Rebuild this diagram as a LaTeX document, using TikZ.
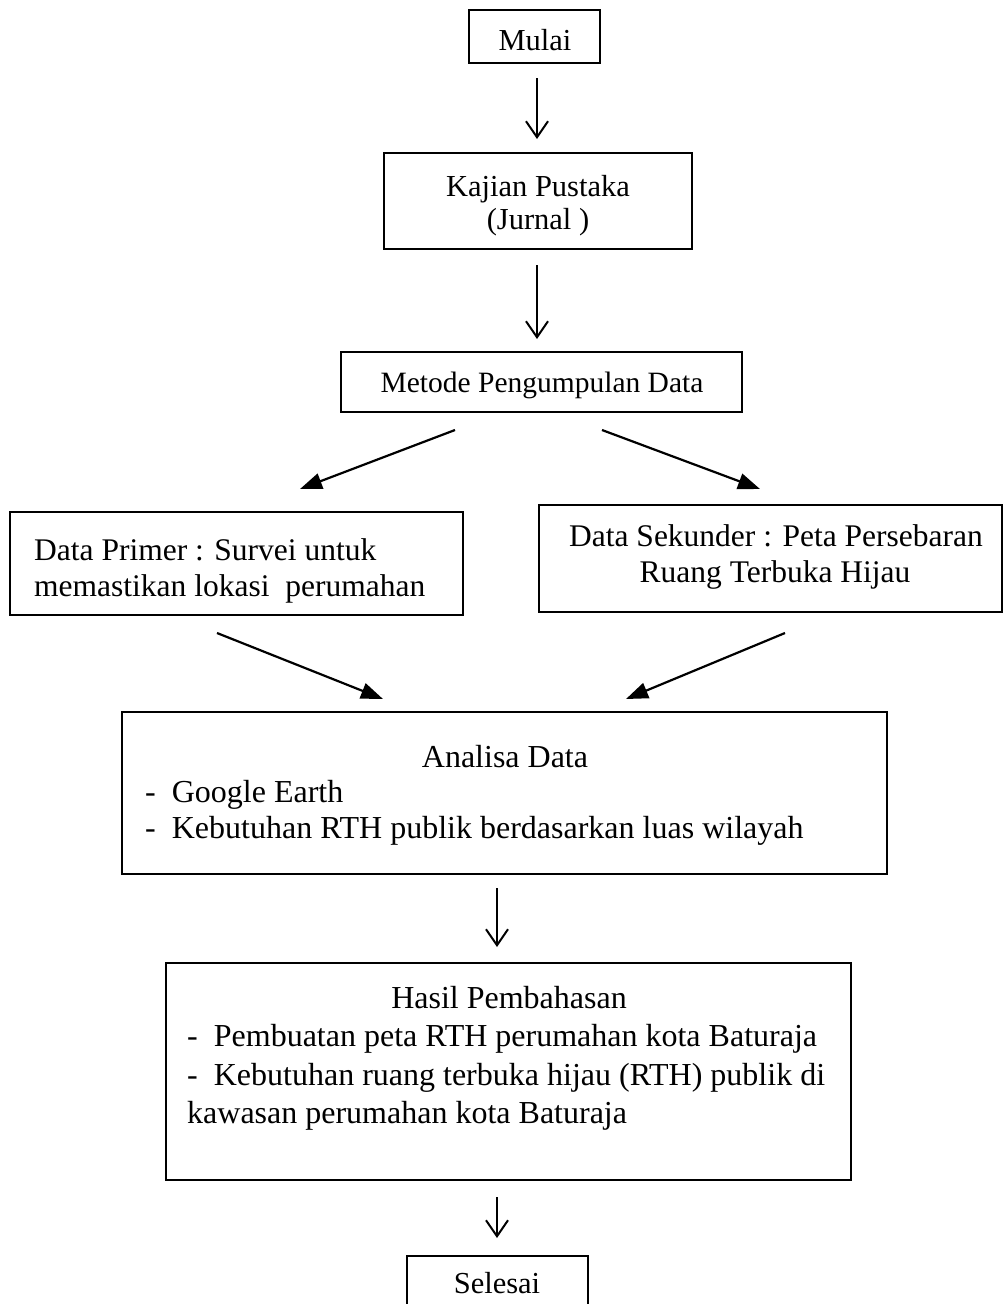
\documentclass[tikz,border=0pt]{standalone}
\usepackage{fontspec}
\setmainfont{Liberation Serif}
\usetikzlibrary{arrows.meta}
\begin{document}
\begin{tikzpicture}[x=1pt,y=-1pt,
  box/.style={draw,line width=1.3pt,rectangle,inner sep=0pt},
  txt/.style={anchor=base,inner sep=0pt,font=\fontsize{30.5}{36}\selectfont},
  ltxt/.style={anchor=base west,inner sep=0pt,font=\fontsize{30.5}{36}\selectfont},
  smallf/.style={font=\fontsize{29.5}{36}\selectfont},
  midf/.style={font=\fontsize{31.5}{36}\selectfont},
  bigf/.style={font=\fontsize{32}{36}\selectfont},
  varrow/.style={line width=2pt,-{Straight Barb[length=16pt,width=22pt,line width=2pt]}},
  darrow/.style={line width=2.2pt,-{Triangle[length=22pt,width=16pt]}}]
\useasboundingbox (0,0) rectangle (1003,1304);
% boxes
\node[box,minimum width=131pt,minimum height=53pt] (mulai) at (534.5,36.5) {};
\node[box,minimum width=308pt,minimum height=96pt] (kajian) at (538,201) {};
\node[box,minimum width=401pt,minimum height=60pt] (metode) at (541.5,382) {};
\node[box,minimum width=453pt,minimum height=103pt] (primer) at (236.5,563.5) {};
\node[box,minimum width=463pt,minimum height=107pt] (sekunder) at (770.5,558.5) {};
\node[box,minimum width=765pt,minimum height=162pt] (analisa) at (504.5,793) {};
\node[box,minimum width=685pt,minimum height=217pt] (hasil) at (508.5,1071.5) {};
\node[box,minimum width=181pt,minimum height=52pt] (selesai) at (497.5,1282) {};
% texts
\node[txt] (tmulai) at (535,50) {Mulai};
\node[txt] (tkajian1) at (538,196) {Kajian Pustaka};
\node[txt] (tkajian2) at (538,229) {(Jurnal )};
\node[txt,smallf] (tmetode) at (542,392) {Metode Pengumpulan Data};
\node[ltxt,midf] (tprimer1) at (34,560) {Data Primer : Survei untuk};
\node[ltxt,midf] (tprimer2) at (34,596) {memastikan lokasi \ perumahan};
\node[txt,midf] (tsek1) at (776,546) {Data Sekunder : Peta Persebaran};
\node[txt,midf] (tsek2) at (775,582) {Ruang Terbuka Hijau};
\node[txt,bigf] (tanalisa) at (505,767) {Analisa Data};
\node[ltxt,bigf] (tan1) at (145,802) {-\ \ Google Earth};
\node[ltxt,bigf] (tan2) at (145,838) {-\ \ Kebutuhan RTH publik berdasarkan luas wilayah};
\node[txt,bigf] (thasil) at (509,1008) {Hasil Pembahasan};
\node[ltxt,bigf] (th1) at (187,1046) {-\ \ Pembuatan peta RTH perumahan kota Baturaja};
\node[ltxt,bigf] (th2) at (187,1085) {-\ \ Kebutuhan ruang terbuka hijau (RTH) publik di};
\node[ltxt,bigf] (th3) at (187,1123) {kawasan perumahan kota Baturaja};
\node[txt] (tselesai) at (497,1293) {Selesai};
% connector ends
\coordinate (a1s) at (537,78);   \coordinate (a1e) at (537,139);
\coordinate (a2s) at (537,265);  \coordinate (a2e) at (537,339);
\coordinate (a3s) at (455,430);  \coordinate (a3e) at (300,489);
\coordinate (a4s) at (602,430);  \coordinate (a4e) at (760,489);
\coordinate (a5s) at (217,633);  \coordinate (a5e) at (383,699);
\coordinate (a6s) at (785,633);  \coordinate (a6e) at (626,699);
\coordinate (a7s) at (497,888);  \coordinate (a7e) at (497,947);
\coordinate (a8s) at (497,1197); \coordinate (a8e) at (497,1238);
\draw[varrow] (a1s) -- (a1e);
\draw[varrow] (a2s) -- (a2e);
\draw[darrow] (a3s) -- (a3e);
\draw[darrow] (a4s) -- (a4e);
\draw[darrow] (a5s) -- (a5e);
\draw[darrow] (a6s) -- (a6e);
\draw[varrow] (a7s) -- (a7e);
\draw[varrow] (a8s) -- (a8e);
\end{tikzpicture}
\end{document}
